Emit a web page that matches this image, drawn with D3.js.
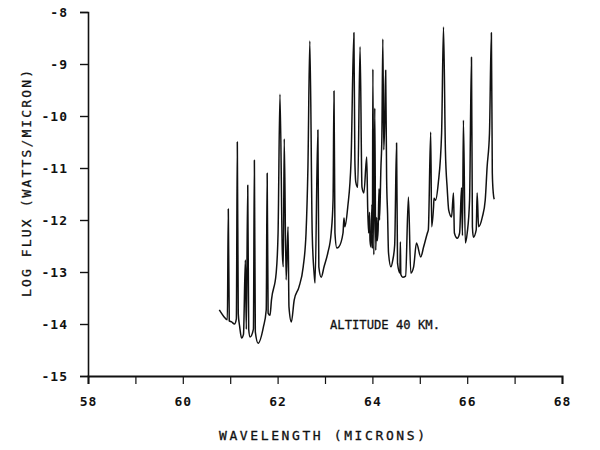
<!DOCTYPE html>
<html>
<head>
<meta charset="utf-8">
<script src="https://cdn.jsdelivr.net/npm/d3@7/dist/d3.min.js"></script>
<style>
  html, body { margin: 0; padding: 0; background: #fff; }
  svg { display: block; }
  text { font-family: "DejaVu Sans Mono", "Liberation Mono", monospace; fill: #111; }
</style>
</head>
<body>
<div id="chart"></div>
<script>
// Emission spectrum at 40 km altitude: wavelength (microns) vs log flux (W/micron)
const wavelength = [
  60.77, 60.86, 60.94, 60.96, 60.98, 61.03, 61.09, 61.13, 61.15, 61.17,
  61.20, 61.24, 61.28, 61.32, 61.34, 61.37, 61.39, 61.42, 61.49, 61.51,
  61.53, 61.59, 61.70, 61.76, 61.78, 61.80, 61.84, 61.87, 61.97, 62.01,
  62.05, 62.10, 62.12, 62.14, 62.18, 62.22, 62.24, 62.29, 62.35, 62.45,
  62.54, 62.60, 62.64, 62.68, 62.73, 62.77, 62.79, 62.85, 62.87, 62.92,
  62.98, 63.06, 63.13, 63.17, 63.19, 63.21, 63.25, 63.29, 63.38, 63.40,
  63.42, 63.48, 63.55, 63.61, 63.63, 63.65, 63.69, 63.74, 63.78, 63.82,
  63.88, 63.90, 63.92, 63.94, 63.95, 63.97, 63.99, 64.00, 64.01, 64.03,
  64.05, 64.07, 64.09, 64.10, 64.12, 64.14, 64.15, 64.18, 64.20, 64.22,
  64.24, 64.26, 64.28, 64.30, 64.32, 64.34, 64.39, 64.43, 64.47, 64.51,
  64.53, 64.58, 64.59, 64.60, 64.64, 64.70, 64.76, 64.81, 64.87, 64.93,
  65.02, 65.08, 65.16, 65.18, 65.23, 65.25, 65.29, 65.30, 65.33, 65.39,
  65.46, 65.50, 65.54, 65.58, 65.61, 65.67, 65.71, 65.73, 65.79, 65.84,
  65.88, 65.90, 65.92, 65.96, 66.00, 66.05, 66.09, 66.11, 66.13, 66.19,
  66.21, 66.24, 66.32, 66.38, 66.42, 66.47, 66.51, 66.53, 66.55, 66.57
];
const logFlux = [
  -13.73, -13.85, -13.92, -11.79, -13.94, -13.96, -14.00, -13.90, -10.50, -13.80,
  -14.05, -14.27, -14.20, -12.77, -14.10, -11.33, -14.10, -14.25, -14.10, -10.85,
  -14.15, -14.37, -14.06, -13.73, -11.10, -13.79, -13.83, -13.54, -13.02, -12.25,
  -9.58, -12.63, -12.90, -10.44, -13.15, -12.13, -13.67, -13.96, -13.54, -13.29,
  -12.90, -12.25, -10.98, -8.56, -12.25, -13.02, -13.21, -10.27, -12.90, -13.10,
  -12.90, -12.63, -12.25, -11.62, -9.52, -12.25, -12.54, -12.52, -12.25, -11.96,
  -12.13, -11.75, -10.85, -8.40, -10.85, -11.27, -11.37, -8.67, -11.37, -11.48,
  -10.79, -11.75, -12.25, -11.85, -12.40, -12.52, -11.70, -12.55, -9.10, -12.67,
  -9.85, -12.58, -11.95, -12.40, -12.20, -11.40, -12.00, -10.98, -10.40, -8.52,
  -10.65, -10.10, -9.12, -11.20, -11.87, -12.63, -12.90, -12.77, -12.48, -10.52,
  -12.83, -13.02, -12.42, -13.05, -13.10, -13.08, -11.56, -13.02, -12.90, -12.44,
  -12.71, -12.52, -12.25, -12.19, -10.31, -12.13, -11.75, -11.58, -11.62, -11.29,
  -10.33, -8.29, -10.65, -11.42, -11.81, -11.94, -11.48, -12.25, -12.35, -12.25,
  -11.38, -12.30, -10.08, -12.44, -12.25, -11.62, -8.87, -12.13, -12.33, -12.19,
  -11.48, -12.13, -11.94, -11.62, -10.98, -10.33, -8.40, -11.10, -11.48, -11.60
];

const xTicks = [58, 59, 60, 61, 62, 63, 64, 65, 66, 67, 68];
const xTickLabels = ["58", "", "60", "", "62", "", "64", "", "66", "", "68"];
const yTicks = [-8, -9, -10, -11, -12, -13, -14, -15];
const yTickLabels = ["-8", "-9", "-10", "-11", "-12", "-13", "-14", "-15"];

const xTitle = "WAVELENGTH (MICRONS)";
const yTitle = "LOG FLUX (WATTS/MICRON)";
const note = "ALTITUDE 40 KM.";

const W = 600, H = 450;
const svg = d3.select("#chart").append("svg").attr("width", W).attr("height", H);

const x = d3.scaleLinear().domain([58, 68]).range([88, 562]);
const y = d3.scaleLinear().domain([-15, -8]).range([376, 12]);

// x axis
const xAxis = d3.axisBottom(x)
  .tickValues(xTicks)
  .tickSize(8)
  .tickPadding(13)
  .tickFormat((d, i) => xTickLabels[i]);
const gx = svg.append("g").attr("transform", `translate(0,${y(-15)})`).call(xAxis);
gx.select(".domain").attr("stroke", "#111").attr("stroke-width", 2);
gx.selectAll(".tick line").attr("stroke", "#111").attr("stroke-width", 1.2);
gx.selectAll(".tick text").attr("font-size", 13).attr("font-weight", "bold")
  .attr("font-family", "DejaVu Sans Mono").attr("fill", "#111").attr("letter-spacing", 1);

// y axis
const yAxis = d3.axisLeft(y)
  .tickValues(yTicks)
  .tickSize(8)
  .tickPadding(12)
  .tickFormat((d, i) => yTickLabels[i]);
const gy = svg.append("g").attr("transform", `translate(${x(58)},0)`).call(yAxis);
gy.select(".domain").attr("stroke", "#111").attr("stroke-width", 1.6);
gy.selectAll(".tick line").attr("stroke", "#111").attr("stroke-width", 1.4);
gy.selectAll(".tick text").attr("font-size", 13).attr("font-weight", "bold")
  .attr("font-family", "DejaVu Sans Mono").attr("fill", "#111").attr("letter-spacing", 1);

// spectrum trace
const pts = wavelength.map((w, i) => [w, logFlux[i]]);
const line = d3.line()
  .x(d => x(d[0]))
  .y(d => y(d[1]))
  .curve(d3.curveMonotoneX);
svg.append("path")
  .datum(pts)
  .attr("fill", "none")
  .attr("stroke", "#111")
  .attr("stroke-width", 1.5)
  .attr("stroke-linejoin", "round")
  .attr("d", line);

// titles
svg.append("text")
  .attr("x", 219).attr("y", 440)
  .attr("font-size", 13)
  .attr("stroke", "#111").attr("stroke-width", 0.3)
  .attr("textLength", 206).attr("lengthAdjust", "spacing")
  .text(xTitle);

svg.append("text")
  .attr("transform", `translate(31,297) rotate(-90)`)
  .attr("font-size", 13)
  .attr("stroke", "#111").attr("stroke-width", 0.3)
  .attr("textLength", 227).attr("lengthAdjust", "spacing")
  .text(yTitle);

svg.append("text")
  .attr("x", 330).attr("y", 329)
  .attr("font-size", 13)
  .attr("stroke", "#111").attr("stroke-width", 0.3)
  .attr("textLength", 110).attr("lengthAdjust", "spacingAndGlyphs")
  .text(note);
</script>
</body>
</html>
